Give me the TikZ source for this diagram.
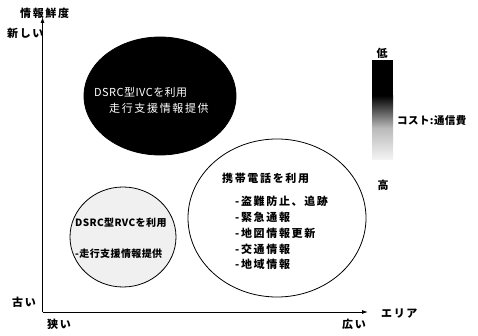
\documentclass[tikz,border=0pt]{standalone}
\usepackage{fontspec}
\newfontfamily\jp{Noto Sans CJK JP}[LetterSpace=15]
\newfontfamily\jpn{Noto Sans CJK JP}[LetterSpace=4]
\usetikzlibrary{arrows.meta,shapes.geometric}
\begin{document}
\begin{tikzpicture}[x=1pt,y=-1pt,
  lab/.style={font=\jp\bfseries\fontsize{11}{12}\selectfont, inner sep=0pt, anchor=west},
  labs/.style={font=\jpn\bfseries\fontsize{10}{12}\selectfont, inner sep=0pt, anchor=west},
  oval/.style={ellipse, draw=black, line width=0.8pt, inner sep=0pt},
  axis/.style={line width=0.9pt, -{Latex[length=6pt,width=4pt]}}]
\useasboundingbox (0,0) rectangle (478,336);
\fill[white] (0,0) rectangle (478,336);
% axes
\coordinate (o) at (42.5,312);
\coordinate (ytip) at (42.5,17);
\coordinate (xtip) at (368,312);
\draw[axis] (o) -- (ytip);
\draw[axis] (o) -- (xtip);
\node[lab] (yl) at (20,13) {情報鮮度};
\node[lab] (new) at (7,33) {新しい};
\node[lab] (old) at (12,302) {古い};
\node[lab] (narrow) at (47,324) {狭い};
\node[lab] (wide) at (342,324) {広い};
\node[lab] (area) at (381,314) {エリア};
% black ellipse
\node[oval, fill=black, minimum width=152pt, minimum height=118pt] (ivc) at (160,96) {};
\node[lab, text=white, font=\jpn\fontsize{11}{12}\selectfont] (ivc1) at (94,92) {DSRC型IVCを利用};
\node[lab, text=white, font=\jp\fontsize{11}{12}\selectfont] (ivc2) at (109,108) {走行支援情報提供};
% small ellipse
\node[oval, fill=gray!12, minimum width=106pt, minimum height=100pt] (rvc) at (123,237) {};
\node[labs] (rvc1) at (75,223) {DSRC型RVCを利用};
\node[labs] (rvc2) at (75,254) {-走行支援情報提供};
% big circle
\node[oval, fill=white, minimum width=178pt, minimum height=158pt] (cell) at (277,218) {};
\node[lab] (c0) at (222,178) {携帯電話を利用};
\node[lab] (c1) at (235,201) {-盗難防止、追跡};
\node[lab] (c2) at (235,217) {-緊急通報};
\node[lab] (c3) at (235,233) {-地図情報更新};
\node[lab] (c4) at (235,249) {-交通情報};
\node[lab] (c5) at (235,264) {-地域情報};
% cost bar
\fill[black] (372,60) rectangle (393,96);
\shade[top color=black, bottom color=gray!8, middle color=gray!55] (372,95.5) rectangle (393,160);
\node[lab, anchor=center] (low) at (382,53) {低};
\node[lab, anchor=center] (high) at (383,185) {高};
\node[labs, font=\jpn\bfseries\fontsize{10.5}{12}\selectfont] (cost) at (397,121) {コスト:通信費};
\end{tikzpicture}
\end{document}
